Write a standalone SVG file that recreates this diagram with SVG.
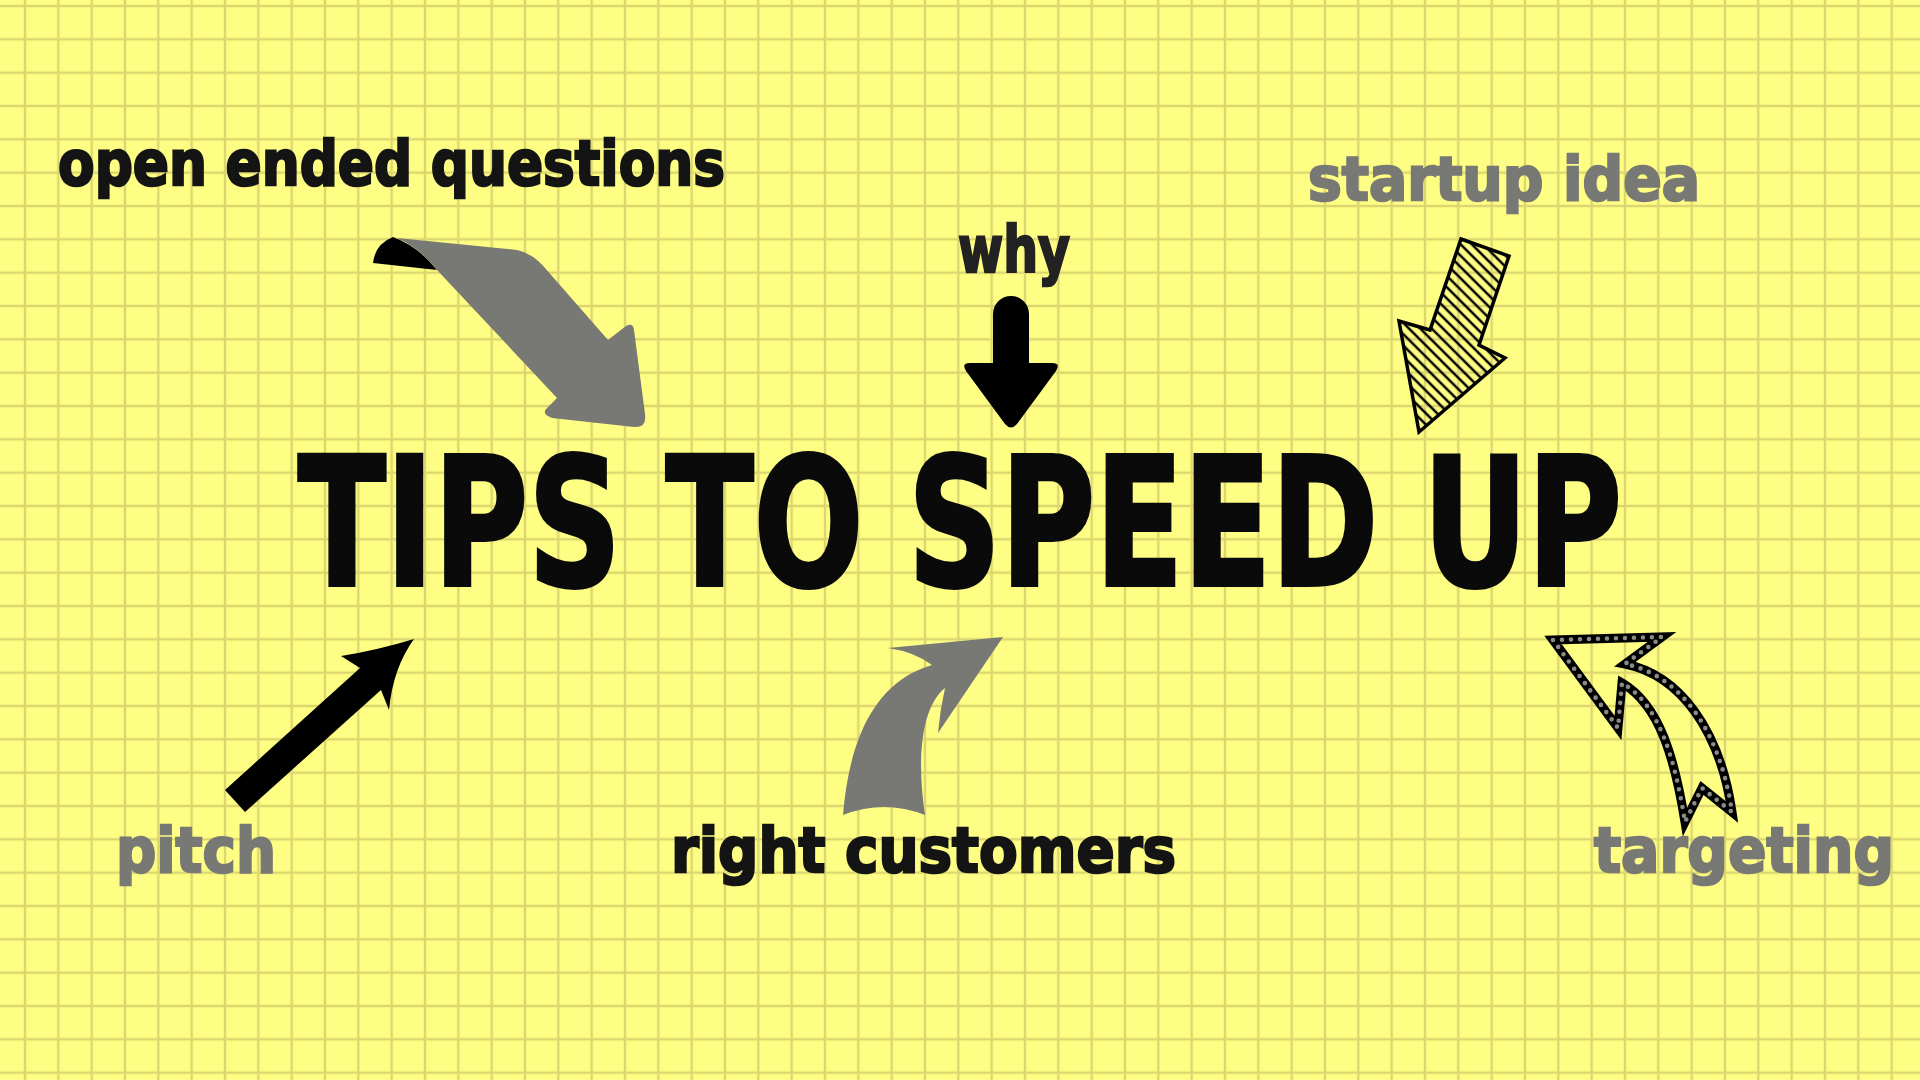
<svg xmlns="http://www.w3.org/2000/svg" width="1920" height="1080" viewBox="0 0 1920 1080">
  <defs>
    <pattern id="grid" x="8.333" y="-10.667" width="33.333" height="33.333" patternUnits="userSpaceOnUse">
      <path d="M0,16.667 H33.333 M16.667,0 V33.333" fill="none" stroke="#dcd670" stroke-width="2.4"/>
    </pattern>
    <pattern id="hatch" width="8" height="8" patternUnits="userSpaceOnUse" patternTransform="rotate(45)">
      <line x1="0" y1="4" x2="8" y2="4" stroke="#000" stroke-width="2.5"/>
    </pattern>
    <style>
      .lbl { font-family: "DejaVu Sans", "Liberation Sans", sans-serif; font-weight: 700; }
      .dark { fill: #141414; stroke: #141414; stroke-width: 2.5; }
      .grey { fill: #787874; stroke: #787874; stroke-width: 2.5; }
      .title { font-family: "DejaVu Sans", "Liberation Sans", sans-serif; font-weight: 700; fill: #0a0a0a; stroke: #0a0a0a; stroke-width: 4; }
      .garrow { fill: #787874; }
      .barrow { fill: #000; }
    </style>
  </defs>

  <rect x="0" y="0" width="1920" height="1080" fill="#fefe84"/>
  <rect x="0" y="0" width="1920" height="1080" fill="url(#grid)"/>

  <g id="connectors">
    <g id="arrow-open-ended">
      <path class="barrow" d="M373,263 Q375,244 393,237 Q418,246 437,270 Z"/>
      <path class="garrow" d="M397,238 L517,250 Q532,253 545,268 L608,340 L626,326 Q633,322 634,330 L645,414 Q647,428 634,427 L552,418 Q540,414 548,407 L557,398 L437,270 Q420,248 397,238 Z"/>
    </g>
    <path id="arrow-why" class="barrow" d="M993,363 L993,314 A18,18 0 0 1 1029,314 L1029,363 L1052,363 Q1061,363 1056,371 L1017,424 Q1011,431 1005,424 L966,371 Q961,363 970,363 Z"/>
    <path id="arrow-startup" d="M1461,239 L1509,256 L1479,345 L1505,358 L1419,432 L1399,321 L1430,330 Z" fill="url(#hatch)" stroke="#000" stroke-width="3.5" stroke-linejoin="miter"/>
    <path id="arrow-pitch" class="barrow" d="M225,790 L360,668 L341,656 Q378,650 414,639 Q393,668 389,710 L381,690 L245,812 Z"/>
    <path id="arrow-right-customers" class="garrow" d="M1003,637 L888,648 Q915,652 932,665 C880,680 850,730 843,815 Q884,799 925,815 C918,770 918,710 945,688 Q940,710 938,733 Z"/>
    <g id="arrow-targeting">
      <path d="M1553,640 L1662,637 L1625,664 C1680,675 1720,730 1732,812 L1702,788 L1685,822 C1675,760 1660,705 1622,683 L1618,728 Z" fill="none" stroke="#000" stroke-width="9" stroke-linejoin="miter"/>
      <path d="M1553,640 L1662,637 L1625,664 C1680,675 1720,730 1732,812 L1702,788 L1685,822 C1675,760 1660,705 1622,683 L1618,728 Z" fill="none" stroke="#8a8a86" stroke-width="4.6" stroke-linecap="round" stroke-dasharray="0 9"/>
    </g>
  </g>

  <g id="node-title">
    <text class="title" x="298" y="585" font-size="178" textLength="1324" lengthAdjust="spacingAndGlyphs">TIPS TO SPEED UP</text>
  </g>
  <g id="node-open-ended-questions">
    <text class="lbl dark" x="58" y="185" font-size="62" textLength="667" lengthAdjust="spacingAndGlyphs">open ended questions</text>
  </g>
  <g id="node-why">
    <text class="lbl dark" x="958" y="272" font-size="64" textLength="112" lengthAdjust="spacingAndGlyphs" style="fill:#222;stroke:#222">why</text>
  </g>
  <g id="node-startup-idea">
    <text class="lbl grey" x="1308" y="200" font-size="60" textLength="392" lengthAdjust="spacingAndGlyphs">startup idea</text>
  </g>
  <g id="node-pitch">
    <text class="lbl grey" x="116" y="872" font-size="62" textLength="160" lengthAdjust="spacingAndGlyphs">pitch</text>
  </g>
  <g id="node-right-customers">
    <text class="lbl dark" x="671" y="872" font-size="62" textLength="505" lengthAdjust="spacingAndGlyphs">right customers</text>
  </g>
  <g id="node-targeting">
    <text class="lbl grey" x="1594" y="872" font-size="62" textLength="300" lengthAdjust="spacingAndGlyphs">targeting</text>
  </g>
</svg>
